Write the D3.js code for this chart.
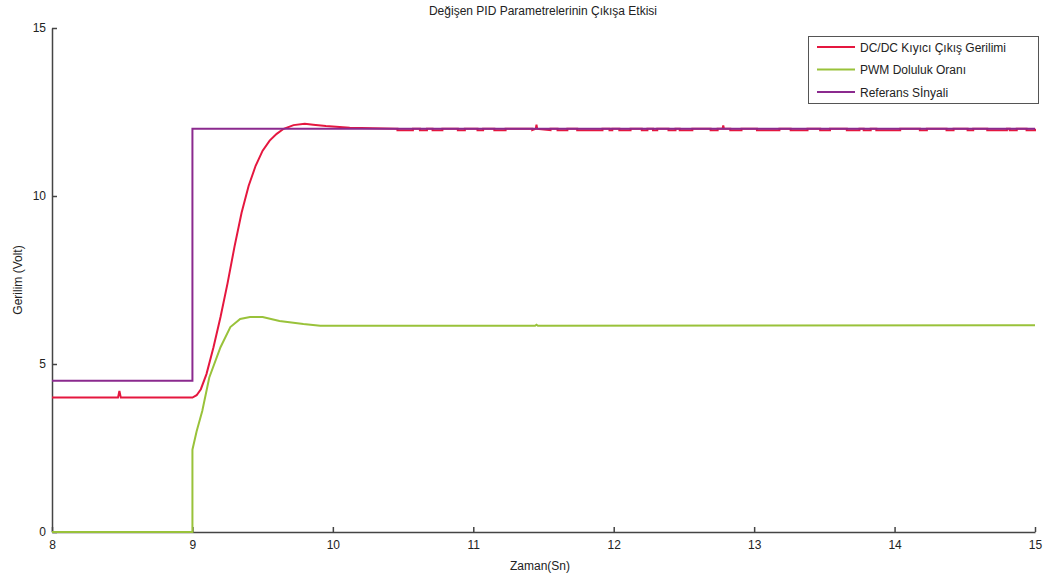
<!DOCTYPE html>
<html>
<head>
<meta charset="utf-8">
<script src="https://cdn.jsdelivr.net/npm/d3@7/dist/d3.min.js"></script>
<style>
  body { margin: 0; background: #fff; }
  text { font-family: "Liberation Sans", Arial, sans-serif; fill: #222; }
</style>
</head>
<body>
<div id="chart"></div>
<script>
// tick values
const xTicks = [8, 9, 10, 11, 12, 13, 14, 15];
const yTicks = [0, 5, 10, 15];

// Referans Sinyali [t, V]
const refSignal = [[8, 4.5], [9.0, 4.5], [9.0, 12.0], [15, 12.0]];

// PWM Doluluk Orani [t, V]
const pwmDuty = [
  [8, 0], [9.0, 0], [9.0, 2.45], [9.03, 3.0], [9.07, 3.6], [9.12, 4.6], [9.2, 5.5],
  [9.27, 6.1], [9.34, 6.34], [9.41, 6.4], [9.5, 6.4], [9.62, 6.28], [9.79, 6.19],
  [9.91, 6.14], [11.44, 6.14], [11.45, 6.17], [11.46, 6.14], [15, 6.15]
];

// DC/DC Kiyici Cikis Gerilimi, transient part [t, V]
const outputRise = [
  [8, 4.0], [8.47, 4.0], [8.48, 4.2], [8.49, 4.0], [9.0, 4.0], [9.03, 4.07],
  [9.06, 4.25], [9.1, 4.7], [9.15, 5.5], [9.2, 6.4], [9.25, 7.4], [9.3, 8.5],
  [9.35, 9.5], [9.4, 10.3], [9.45, 10.9], [9.5, 11.35], [9.55, 11.65], [9.6, 11.85],
  [9.65, 12.0], [9.72, 12.11], [9.8, 12.15], [9.86, 12.12], [9.95, 12.08],
  [10.12, 12.03], [10.45, 12.0]
];
// steady state level and short dips below it [t0, t1]
const outputLevel = 12.0;
const dipLevel = 11.96;
const outputDips = [
  [10.46, 10.57], [10.62, 10.67], [10.71, 10.78], [10.89, 10.94], [11.03, 11.07],
  [11.15, 11.23], [11.42, 11.55], [11.60, 11.67], [11.74, 11.92], [11.97, 11.99],
  [12.04, 12.12], [12.20, 12.24], [12.28, 12.31], [12.39, 12.44], [12.47, 12.56],
  [12.69, 12.74], [12.83, 12.91], [13.02, 13.18], [13.26, 13.38], [13.47, 13.54],
  [13.66, 13.75], [13.78, 13.83], [13.87, 14.04], [14.18, 14.23], [14.37, 14.42],
  [14.52, 14.56], [14.66, 14.80], [14.82, 14.87], [14.94, 15.0]
];
// small spikes above the level [t, V]
const outputSpikes = [[11.45, 12.12], [12.78, 12.1]];

const width = 1051, height = 582;

const svg = d3.select("#chart").append("svg")
  .attr("width", width)
  .attr("height", height)
  .style("background", "#fff");

const x = d3.scaleLinear().domain([8, 15]).range([52, 1035]);
const y = d3.scaleLinear().domain([0, 15]).range([532, 28]);

// build the full output series from the pieces
let output = outputRise.slice();
let spikes = outputSpikes.slice();
outputDips.forEach(d => {
  spikes.filter(s => s[0] < d[0]).forEach(s => {
    output.push([s[0] - 0.005, outputLevel], [s[0], s[1]], [s[0] + 0.005, outputLevel]);
  });
  spikes = spikes.filter(s => s[0] >= d[0]);
  output.push([d[0], outputLevel], [d[0], dipLevel], [d[1], dipLevel], [d[1], outputLevel]);
});
output.push([15, outputLevel]);
output.sort((a, b) => a[0] - b[0]);

const line = d3.line().x(d => x(d[0])).y(d => y(d[1]));

const series = [
  { name: "DC/DC Kıyıcı Çıkış Gerilimi", color: "#e5173f", data: output },
  { name: "PWM Doluluk Oranı", color: "#99c23a", data: pwmDuty },
  { name: "Referans Sİnyali", color: "#8b2a8e", data: refSignal }
];

// axes
const fmt = d3.format("d");
const xAxis = d3.axisBottom(x).tickValues(xTicks).tickFormat(fmt).tickSizeInner(-5).tickSizeOuter(0).tickPadding(8);
const yAxis = d3.axisLeft(y).tickValues(yTicks).tickFormat(fmt).tickSizeInner(-5).tickSizeOuter(0).tickPadding(8);

const gx = svg.append("g").attr("transform", `translate(0,${y(0)})`).call(xAxis);
const gy = svg.append("g").attr("transform", `translate(${x(8)},0)`).call(yAxis);
[gx, gy].forEach(g => {
  g.select(".domain").attr("stroke", "#444").attr("stroke-width", 1.5);
  g.selectAll(".tick line").attr("stroke", "#444").attr("stroke-width", 1.5);
  g.selectAll(".tick text").style("font-size", "12px").style("font-family", "'Liberation Sans', Arial, sans-serif").attr("fill", "#2a2a55");
});
gy.selectAll(".tick text").attr("x", -6);

// lines
series.forEach(s => {
  svg.append("path")
    .datum(s.data)
    .attr("fill", "none")
    .attr("stroke", s.color)
    .attr("stroke-width", 2)
    .attr("d", line);
});

// title and axis labels
svg.append("text")
  .attr("x", 543).attr("y", 15)
  .attr("text-anchor", "middle")
  .style("font-size", "12px")
  .text("Değişen PID Parametrelerinin Çıkışa Etkisi");

svg.append("text")
  .attr("x", 540).attr("y", 570)
  .attr("text-anchor", "middle")
  .style("font-size", "12px")
  .text("Zaman(Sn)");

svg.append("text")
  .attr("transform", "translate(22,280) rotate(-90)")
  .attr("text-anchor", "middle")
  .style("font-size", "12px")
  .text("Gerilim (Volt)");

// legend
const legend = svg.append("g");
legend.append("rect")
  .attr("x", 808.5).attr("y", 36.5)
  .attr("width", 230).attr("height", 67)
  .attr("fill", "#fff")
  .attr("stroke", "#555")
  .attr("stroke-width", 1);

series.forEach((s, i) => {
  const ly = 47 + i * 22.5;
  legend.append("line")
    .attr("x1", 817).attr("x2", 855)
    .attr("y1", ly).attr("y2", ly)
    .attr("stroke", s.color)
    .attr("stroke-width", 2);
  legend.append("text")
    .attr("x", 860).attr("y", ly + 4.5)
    .style("font-size", "12px")
    .text(s.name);
});
</script>
</body>
</html>
